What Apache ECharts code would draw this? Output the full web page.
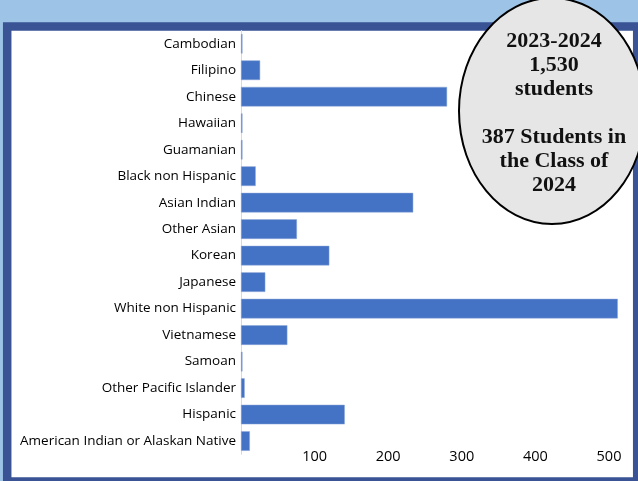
<!DOCTYPE html>
<html><head><meta charset="utf-8">
<script src="https://cdn.jsdelivr.net/npm/echarts@6/dist/echarts.min.js"></script>
<style>html,body{margin:0;padding:0;background:#9DC3E6;}#c{width:638px;height:481px;}</style>
</head><body><div id="c"></div>
<script>
const categories = ["Cambodian","Filipino","Chinese","Hawaiian","Guamanian","Black non Hispanic","Asian Indian","Other Asian","Korean","Japanese","White non Hispanic","Vietnamese","Samoan","Other Pacific Islander","Hispanic","American Indian or Alaskan Native"];
const students = [2,26,280,2,2,20,234,76,120,33,512,63,2,5,141,12];
const tickValues = [100,200,300,400,500];
const calloutLines = ["2023-2024","1,530","students","","387 Students in","the Class of","2024"];

const chart = echarts.init(document.getElementById('c'));
chart.setOption({
  backgroundColor: '#9DC3E6',
  animation: false,
  graphic: [
    {type:'rect', z:-10, silent:true, shape:{x:7.2,y:26.5,width:630,height:455}, style:{fill:'#ffffff',stroke:'#3A5395',lineWidth:8.5}},
    {type:'ellipse', z:100, shape:{cx:552,cy:111,rx:93,ry:113}, style:{fill:'#E7E6E6',stroke:'#000000',lineWidth:2}},
    {type:'text', z:101, x:554, y:113, style:{text:calloutLines.join('\n'), align:'center', verticalAlign:'middle', font:'bold 22px "Liberation Serif"', lineHeight:24, fill:'#111111'}}
  ],
  grid: {left:241, top:30.5, width:382.7, height:423.8, containLabel:false},
  xAxis: {
    type:'value', min:0, max:520, interval:100,
    splitLine:{show:false}, axisLine:{show:false}, axisTick:{show:false},
    axisLabel:{margin:-5, color:'#000', fontSize:14.5, fontFamily:'Open Sans',
      formatter: v => tickValues.indexOf(v) >= 0 ? String(v) : ''}
  },
  yAxis: {
    type:'category', data:categories, inverse:true,
    axisLine:{show:true, lineStyle:{color:'#D9D9D9', width:1}},
    axisTick:{show:false},
    axisLabel:{margin:5, color:'#000', fontSize:13.5, fontFamily:'Open Sans'}
  },
  series: [{
    type:'bar', data:students, barCategoryGap:'26%',
    itemStyle:{color:'#4472C4', borderColor:'#8EA9DB', borderWidth:0.5}
  }]
});
</script></body></html>
